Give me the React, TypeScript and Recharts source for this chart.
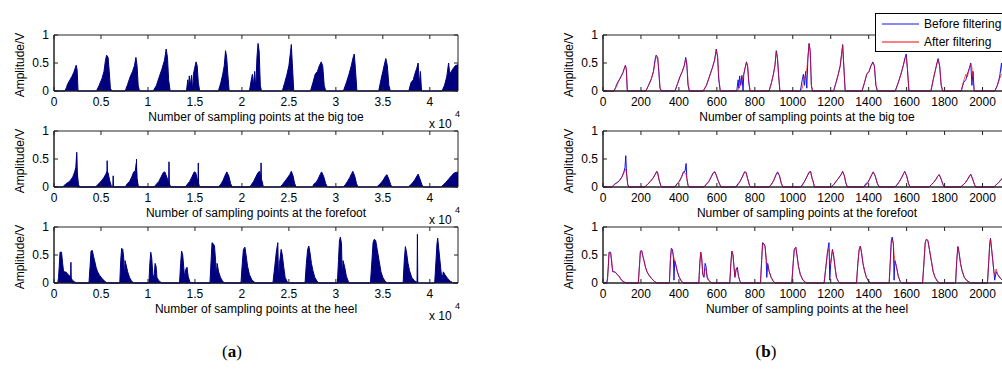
import { ComposedChart, Area, Line, XAxis, YAxis, ReferenceArea, Legend } from 'recharts';

// sample index of the filtered (downsampled) record; panel (a) shows the raw record, 20x denser
const toeIndex = [
  0, 58, 66, 72, 82, 95, 105, 112, 118, 123, 128, 134,
  226, 240, 255, 266, 274, 280, 288, 294, 300, 308,
  379, 392, 405, 418, 428, 436, 442, 448, 455,
  528, 545, 560, 575, 588, 597, 604, 610, 618,
  705, 712, 716, 720, 726, 732, 738, 742, 748, 756, 762, 768, 775,
  875, 888, 898, 906, 913, 919, 925, 932, 938,
  1040, 1050, 1056, 1062, 1068, 1074, 1080, 1086, 1092, 1098, 1104,
  1215, 1228, 1240, 1250, 1257, 1263, 1268, 1276, 1282,
  1365, 1378, 1390, 1402, 1412, 1422, 1430, 1438, 1446,
  1540, 1556, 1570, 1582, 1592, 1598, 1604, 1612, 1620,
  1728, 1740, 1750, 1760, 1766, 1774, 1782, 1790,
  1888, 1900, 1912, 1920, 1930, 1938, 1944, 1950, 1956,
  2065, 2078, 2090, 2100, 2106, 2120, 2135, 2150,
];
const toeBefore = [
  0, 0, 0.06, 0.12, 0.18, 0.26, 0.33, 0.4, 0.46, 0.38, 0, 0,
  0, 0.1, 0.22, 0.35, 0.55, 0.64, 0.6, 0.35, 0.05, 0,
  0, 0.12, 0.25, 0.35, 0.45, 0.6, 0.45, 0.1, 0,
  0, 0.1, 0.25, 0.4, 0.55, 0.75, 0.6, 0.2, 0,
  0, 0.2, 0.05, 0.27, 0.1, 0.28, 0, 0.3, 0.4, 0.52, 0.45, 0.15, 0,
  0, 0.15, 0.3, 0.45, 0.72, 0.6, 0.3, 0, 0,
  0, 0.2, 0.3, 0.1, 0.35, 0.05, 0.6, 0.85, 0.7, 0.1, 0,
  0, 0.15, 0.3, 0.45, 0.65, 0.83, 0.5, 0, 0,
  0, 0.15, 0.3, 0.35, 0.45, 0.52, 0.45, 0.1, 0,
  0, 0.15, 0.3, 0.45, 0.6, 0.66, 0.4, 0, 0,
  0, 0.2, 0.35, 0.5, 0.58, 0.45, 0.1, 0,
  0, 0.15, 0.2, 0.3, 0.4, 0.5, 0.1, 0.35, 0,
  0, 0.1, 0.25, 0.5, 0.3, 0.38, 0.45, 0.47,
];
const toeAfter = [
  0, 0, 0.05, 0.08, 0.17, 0.25, 0.32, 0.4, 0.45, 0.4, 0.03, 0,
  0, 0.1, 0.22, 0.35, 0.52, 0.6, 0.6, 0.38, 0.08, 0,
  0, 0.12, 0.25, 0.35, 0.45, 0.57, 0.5, 0.15, 0,
  0, 0.1, 0.25, 0.4, 0.55, 0.73, 0.62, 0.25, 0,
  0, 0.02, 0.05, 0.08, 0.13, 0.18, 0.25, 0.3, 0.4, 0.5, 0.45, 0.2, 0,
  0, 0.15, 0.3, 0.45, 0.69, 0.62, 0.3, 0.02, 0,
  0, 0.05, 0.15, 0.25, 0.3, 0.4, 0.6, 0.84, 0.72, 0.1, 0,
  0, 0.15, 0.3, 0.45, 0.65, 0.8, 0.5, 0.02, 0,
  0, 0.15, 0.3, 0.35, 0.45, 0.5, 0.45, 0.12, 0,
  0, 0.15, 0.3, 0.45, 0.58, 0.6, 0.42, 0.03, 0,
  0, 0.2, 0.35, 0.5, 0.55, 0.45, 0.12, 0,
  0, 0.18, 0.3, 0.25, 0.4, 0.48, 0.42, 0.2, 0,
  0, 0.1, 0.22, 0.3, 0.32, 0.38, 0.44, 0.46,
];
// short spikes that only show up in the raw record (a)
const toeSpikeIndex: number[] = [];
const toeSpikeValue: number[] = [];

const foreIndex = [
  0, 46, 55, 64, 75, 88, 100, 110, 116, 120, 124, 130, 136,
  221, 235, 250, 264, 276, 283, 288, 296, 305, 310,
  379, 390, 402, 414, 424, 432, 438, 442, 448, 454,
  532, 545, 558, 570, 582, 590, 598, 606, 616, 622,
  700, 712, 722, 734, 746, 754, 762, 772, 778,
  875, 888, 900, 912, 920, 930, 940, 948,
  1042, 1052, 1062, 1074, 1086, 1094, 1102, 1108, 1114,
  1203, 1215, 1228, 1242, 1254, 1263, 1272, 1280, 1288,
  1375, 1385, 1395, 1405, 1416, 1424, 1434, 1446, 1455,
  1538, 1550, 1562, 1574, 1584, 1590, 1600, 1610, 1618,
  1718, 1730, 1742, 1755, 1765, 1772, 1782, 1792, 1798,
  1885, 1898, 1910, 1922, 1932, 1938, 1948, 1958, 1964,
  2060, 2072, 2085, 2100, 2115, 2130, 2150,
];
const foreBefore = [
  0, 0, 0.03, 0.06, 0.08, 0.12, 0.18, 0.27, 0.35, 0.56, 0.25, 0.05, 0,
  0, 0.05, 0.1, 0.16, 0.23, 0.28, 0.25, 0.12, 0.02, 0,
  0, 0.06, 0.1, 0.18, 0.27, 0.28, 0.42, 0.15, 0.03, 0,
  0, 0.05, 0.1, 0.18, 0.26, 0.27, 0.2, 0.12, 0.04, 0,
  0, 0.06, 0.1, 0.18, 0.27, 0.26, 0.15, 0.03, 0,
  0, 0.05, 0.12, 0.22, 0.27, 0.2, 0.06, 0,
  0, 0.05, 0.1, 0.18, 0.26, 0.28, 0.15, 0.1, 0,
  0, 0.04, 0.1, 0.16, 0.22, 0.28, 0.2, 0.07, 0,
  0, 0.06, 0.08, 0.14, 0.22, 0.27, 0.2, 0.06, 0,
  0, 0.04, 0.1, 0.17, 0.24, 0.28, 0.2, 0.06, 0,
  0, 0.04, 0.08, 0.14, 0.2, 0.22, 0.14, 0.04, 0,
  0, 0.04, 0.08, 0.14, 0.2, 0.23, 0.14, 0.04, 0,
  0, 0.04, 0.08, 0.14, 0.2, 0.25, 0.27,
];
const foreAfter = [
  0, 0, 0.02, 0.05, 0.08, 0.12, 0.18, 0.25, 0.3, 0.32, 0.26, 0.05, 0,
  0, 0.05, 0.1, 0.16, 0.23, 0.27, 0.26, 0.12, 0.02, 0,
  0, 0.05, 0.09, 0.18, 0.27, 0.25, 0.22, 0.15, 0.03, 0,
  0, 0.05, 0.1, 0.18, 0.26, 0.27, 0.2, 0.12, 0.04, 0,
  0, 0.04, 0.1, 0.18, 0.27, 0.26, 0.15, 0.03, 0,
  0, 0.05, 0.12, 0.22, 0.25, 0.2, 0.06, 0,
  0, 0.03, 0.1, 0.18, 0.27, 0.27, 0.15, 0.08, 0,
  0, 0.04, 0.1, 0.16, 0.22, 0.27, 0.2, 0.07, 0,
  0, 0.03, 0.07, 0.14, 0.22, 0.27, 0.2, 0.06, 0,
  0, 0.04, 0.1, 0.17, 0.24, 0.27, 0.2, 0.06, 0,
  0, 0.04, 0.08, 0.14, 0.2, 0.22, 0.14, 0.04, 0,
  0, 0.04, 0.08, 0.14, 0.2, 0.22, 0.14, 0.04, 0,
  0, 0.04, 0.08, 0.14, 0.2, 0.25, 0.27,
];
const foreSpikeIndex = [119, 121, 123, 281, 283, 285, 313, 315, 317, 437, 439, 441, 610, 612, 614, 766, 768, 770, 1100, 1102, 1104];
const foreSpikeValue = [0, 0.62, 0, 0, 0.47, 0, 0, 0.2, 0, 0, 0.5, 0, 0, 0.45, 0, 0, 0.43, 0, 0, 0.43, 0];

const heelIndex = [
  0, 20, 24, 28, 32, 40, 46, 51, 58, 66, 75, 85, 92, 98, 110, 121,
  186, 192, 197, 204, 210, 216, 224, 232, 242, 256, 270, 283,
  350, 355, 360, 366, 371, 374, 378, 384, 392, 402, 412, 423,
  505, 510, 515, 520, 526, 532, 538, 543, 548, 556, 566, 574,
  668, 674, 679, 685, 690, 695, 702, 708, 714, 722, 730,
  830, 836, 841, 848, 854, 860, 863, 868, 876, 886, 896, 906,
  995, 1002, 1008, 1016, 1022, 1030, 1040, 1054, 1072,
  1165, 1175, 1183, 1191, 1195, 1200, 1209, 1215, 1222, 1230, 1240, 1248,
  1336, 1343, 1350, 1356, 1362, 1370, 1378, 1388, 1400, 1410,
  1508, 1514, 1519, 1524, 1530, 1534, 1538, 1546, 1556, 1566, 1574,
  1684, 1692, 1698, 1704, 1712, 1720, 1730, 1740, 1750, 1762, 1774,
  1858, 1864, 1870, 1876, 1884, 1892, 1904, 1918, 1938,
  2026, 2033, 2038, 2042, 2048, 2054, 2060, 2064, 2072, 2080, 2095, 2110, 2125, 2150,
];
const heelBefore = [
  0, 0, 0.1, 0.3, 0.55, 0.55, 0.35, 0.2, 0.2, 0.19, 0.15, 0.12, 0.08, 0.05, 0.02, 0,
  0, 0.3, 0.57, 0.58, 0.48, 0.4, 0.28, 0.2, 0.14, 0.08, 0.03, 0,
  0, 0.4, 0.62, 0.6, 0.45, 0.05, 0.4, 0.32, 0.2, 0.1, 0.04, 0,
  0, 0.35, 0.55, 0.45, 0.15, 0.1, 0.35, 0.3, 0.1, 0.05, 0.02, 0,
  0, 0.35, 0.57, 0.5, 0.3, 0.1, 0.25, 0.28, 0.12, 0.03, 0,
  0, 0.4, 0.72, 0.7, 0.66, 0.4, 0.1, 0.35, 0.2, 0.1, 0.04, 0,
  0, 0.35, 0.6, 0.64, 0.5, 0.3, 0.15, 0.05, 0,
  0, 0.3, 0.55, 0.72, 0.05, 0.35, 0.6, 0.5, 0.3, 0.1, 0.03, 0,
  0, 0.35, 0.6, 0.66, 0.55, 0.35, 0.22, 0.1, 0.03, 0,
  0, 0.4, 0.75, 0.82, 0.7, 0.05, 0.4, 0.3, 0.12, 0.03, 0,
  0, 0.4, 0.72, 0.78, 0.76, 0.6, 0.4, 0.2, 0.1, 0.03, 0,
  0, 0.4, 0.65, 0.55, 0.35, 0.22, 0.1, 0.04, 0,
  0, 0.4, 0.7, 0.8, 0.6, 0.4, 0.2, 0.05, 0.2, 0.15, 0.08, 0.03, 0, 0,
];
const heelAfter = [
  0, 0, 0.05, 0.3, 0.54, 0.54, 0.4, 0.22, 0.2, 0.19, 0.15, 0.12, 0.08, 0.05, 0.02, 0,
  0, 0.3, 0.55, 0.56, 0.48, 0.4, 0.28, 0.2, 0.14, 0.08, 0.03, 0,
  0, 0.4, 0.6, 0.58, 0.5, 0.45, 0.38, 0.32, 0.2, 0.1, 0.04, 0,
  0, 0.3, 0.55, 0.45, 0.15, 0.12, 0.25, 0.25, 0.15, 0.05, 0.02, 0,
  0, 0.35, 0.57, 0.5, 0.3, 0.12, 0.25, 0.25, 0.12, 0.03, 0,
  0, 0.4, 0.7, 0.68, 0.64, 0.45, 0.35, 0.3, 0.2, 0.1, 0.04, 0,
  0, 0.35, 0.6, 0.64, 0.5, 0.3, 0.15, 0.05, 0,
  0, 0.3, 0.55, 0.6, 0.4, 0.35, 0.58, 0.5, 0.3, 0.1, 0.03, 0,
  0, 0.35, 0.6, 0.65, 0.55, 0.35, 0.22, 0.1, 0.03, 0,
  0, 0.35, 0.7, 0.76, 0.7, 0.5, 0.4, 0.3, 0.12, 0.03, 0,
  0, 0.4, 0.72, 0.78, 0.76, 0.6, 0.4, 0.2, 0.1, 0.03, 0,
  0, 0.4, 0.65, 0.55, 0.35, 0.22, 0.1, 0.04, 0,
  0, 0.4, 0.7, 0.78, 0.6, 0.4, 0.2, 0.15, 0.25, 0.15, 0.08, 0.03, 0, 0,
];
const heelSpikeIndex = [88, 90, 92, 1932, 1934, 1936];
const heelSpikeValue = [0, 0.37, 0, 0, 0.87, 0];

const sensorTitles = [
  'Number of sampling points at the big toe',
  'Number of sampling points at the forefoot',
  'Number of sampling points at the heel',
];

// (a) ticks sit on the same index scale, labelled in units of 10^4 raw samples
const rawTicks = [0, 250, 500, 750, 1000, 1250, 1500, 1750, 2000];
const rawTickLabels = ['0', '0.5', '1', '1.5', '2', '2.5', '3', '3.5', '4'];
const filteredTicks = [0, 200, 400, 600, 800, 1000, 1200, 1400, 1600, 1800, 2000];
const ampTicks = [0, 0.5, 1];
const legendLabels = ['Before filtering', 'After filtering'];

const MAX_INDEX = 2150;
const FONT = '"Liberation Sans", Arial, Helvetica, sans-serif';
const AXIS = '#222';
const RAW_FILL = '#00007f';
const BEFORE_COLOR = '#1414e6';
const AFTER_COLOR = '#ff0000';

const PLOT_H = 56;
const PANEL_TOPS = [35, 131, 227];
const Y_AXIS_W = 50;
const X_AXIS_H = 44;
const TOP_PAD = 30;

const toRows = (index: number[], before: number[], after: number[]) =>
  index.map((i, k) => ({ i, before: before[k], after: after[k] }));
const toSpikes = (index: number[], value: number[]) => index.map((i, k) => ({ i, spike: value[k] }));

const sensors = [
  { rows: toRows(toeIndex, toeBefore, toeAfter), spikes: toSpikes(toeSpikeIndex, toeSpikeValue) },
  { rows: toRows(foreIndex, foreBefore, foreAfter), spikes: toSpikes(foreSpikeIndex, foreSpikeValue) },
  { rows: toRows(heelIndex, heelBefore, heelAfter), spikes: toSpikes(heelSpikeIndex, heelSpikeValue) },
];

const txt = { fontFamily: FONT, fontSize: 12, fill: '#000' };

function Panel({ rows, spikes, plotX, plotW, top, title, raw, legend }: any) {
  const chartW = Y_AXIS_W + plotW + 4;
  const chartH = TOP_PAD + PLOT_H + X_AXIS_H;
  const bottom = TOP_PAD + PLOT_H;
  const chartLeft = plotX - Y_AXIS_W;
  const chartTop = top - TOP_PAD;

  const xTick = (p: any) => {
    const v = p.payload.value;
    const label = raw ? rawTickLabels[rawTicks.indexOf(v)] : String(v);
    return (
      <g>
        <line x1={p.x} x2={p.x} y1={p.y} y2={p.y - 4} stroke={AXIS} />
        <line x1={p.x} x2={p.x} y1={p.y - PLOT_H} y2={p.y - PLOT_H + 4} stroke={AXIS} />
        <text x={p.x} y={p.y + 15} textAnchor="middle" {...txt}>{label}</text>
      </g>
    );
  };

  const yTick = (p: any) => (
    <g>
      <line x1={p.x} x2={p.x + 4} y1={p.y} y2={p.y} stroke={AXIS} />
      <line x1={p.x + plotW} x2={p.x + plotW - 4} y1={p.y} y2={p.y} stroke={AXIS} />
      <text x={p.x - 5} y={p.y} dy="0.35em" textAnchor="end" {...txt}>{String(p.payload.value)}</text>
    </g>
  );

  const xTitle = () => (
    <g>
      <text x={Y_AXIS_W + plotW / 2} y={bottom + 30} textAnchor="middle" {...txt}>{title}</text>
      {raw && (
        <text x={Y_AXIS_W + plotW - 29} y={bottom + 37} {...txt}>x 10</text>
      )}
      {raw && (
        <text x={Y_AXIS_W + plotW - 3} y={bottom + 26} {...txt} fontSize={9}>4</text>
      )}
    </g>
  );

  const yTitle = () => {
    const cx = Y_AXIS_W - 30.5;
    const cy = TOP_PAD + PLOT_H / 2 + 2;
    return (
      <text x={cx} y={cy} transform={`rotate(-90, ${cx}, ${cy})`} textAnchor="middle" {...txt}>
        Amplitude/V
      </text>
    );
  };

  const legendBox = () => (
    <div
      style={{
        width: 140,
        height: 39,
        boxSizing: 'border-box',
        border: '1px solid #000',
        background: '#fff',
        fontFamily: FONT,
        fontSize: 12,
        position: 'relative',
      }}
    >
      {legendLabels.map((label, k) => (
        <div key={label} style={{ position: 'absolute', left: 6, top: 3 + k * 18, height: 14, display: 'flex', alignItems: 'center' }}>
          <svg width={37} height={14}>
            <line x1={0} x2={37} y1={7} y2={7} stroke={k === 0 ? BEFORE_COLOR : AFTER_COLOR} />
          </svg>
          <span style={{ marginLeft: 5, color: '#000', whiteSpace: 'nowrap' }}>{label}</span>
        </div>
      ))}
    </div>
  );

  return (
    <div style={{ position: 'absolute', left: chartLeft, top: chartTop }}>
      <ComposedChart width={chartW} height={chartH} data={rows} margin={{ top: TOP_PAD, right: 4, bottom: 0, left: 0 }}>
        <XAxis
          dataKey="i"
          type="number"
          domain={[0, MAX_INDEX]}
          allowDataOverflow
          ticks={raw ? rawTicks : filteredTicks}
          interval={0}
          height={X_AXIS_H}
          tickSize={0}
          tickMargin={0}
          tickLine={false}
          axisLine={{ stroke: AXIS }}
          tick={xTick}
          label={{ content: xTitle }}
        />
        <YAxis
          type="number"
          domain={[0, 1]}
          ticks={ampTicks}
          interval={0}
          width={Y_AXIS_W}
          tickSize={0}
          tickMargin={0}
          tickLine={false}
          axisLine={{ stroke: AXIS }}
          tick={yTick}
          label={{ content: yTitle }}
        />
        <ReferenceArea x1={0} x2={MAX_INDEX} y1={0} y2={1} fill="none" stroke={AXIS} strokeOpacity={1} fillOpacity={0} />
        {raw && (
          <Area
            dataKey="before"
            type="linear"
            fill={RAW_FILL}
            fillOpacity={1}
            stroke={RAW_FILL}
            strokeWidth={1}
            baseValue={0}
            dot={false}
            activeDot={false}
            isAnimationActive={false}
          />
        )}
        {raw && spikes.length > 0 && (
          <Area
            data={spikes}
            dataKey="spike"
            type="linear"
            fill={RAW_FILL}
            fillOpacity={1}
            stroke={RAW_FILL}
            strokeWidth={1}
            baseValue={0}
            dot={false}
            activeDot={false}
            isAnimationActive={false}
          />
        )}
        {!raw && (
          <Line dataKey="before" type="linear" stroke={BEFORE_COLOR} strokeWidth={1} dot={false} activeDot={false} isAnimationActive={false} />
        )}
        {!raw && (
          <Line dataKey="after" type="linear" stroke={AFTER_COLOR} strokeOpacity={0.65} strokeWidth={1} dot={false} activeDot={false} isAnimationActive={false} />
        )}
        {legend && (
          <Legend
            layout="vertical"
            align="center"
            verticalAlign="middle"
            content={legendBox}
            wrapperStyle={{ position: 'absolute', left: 875 - chartLeft, top: 13 - chartTop, width: 140, height: 39 }}
          />
        )}
      </ComposedChart>
    </div>
  );
}

export default function App() {
  return (
    <div style={{ position: 'fixed', left: 0, top: 0, width: 1002, height: 379, overflow: 'hidden', background: '#fff' }}>
      {sensors.map((s, k) => (
        <Panel key={`a${k}`} rows={s.rows} spikes={s.spikes} plotX={54} plotW={404} top={PANEL_TOPS[k]} title={sensorTitles[k]} raw legend={false} />
      ))}
      {sensors.map((s, k) => (
        <Panel key={`b${k}`} rows={s.rows} spikes={[]} plotX={603} plotW={408} top={PANEL_TOPS[k]} title={sensorTitles[k]} raw={false} legend={k === 0} />
      ))}
      <div style={{ position: 'absolute', left: 232, top: 352, transform: 'translate(-50%, -50%)', fontFamily: '"Liberation Serif", "Times New Roman", serif', fontSize: 17, color: '#000' }}>
        (<b>a</b>)
      </div>
      <div style={{ position: 'absolute', left: 766, top: 352, transform: 'translate(-50%, -50%)', fontFamily: '"Liberation Serif", "Times New Roman", serif', fontSize: 17, color: '#000' }}>
        (<b>b</b>)
      </div>
    </div>
  );
}
